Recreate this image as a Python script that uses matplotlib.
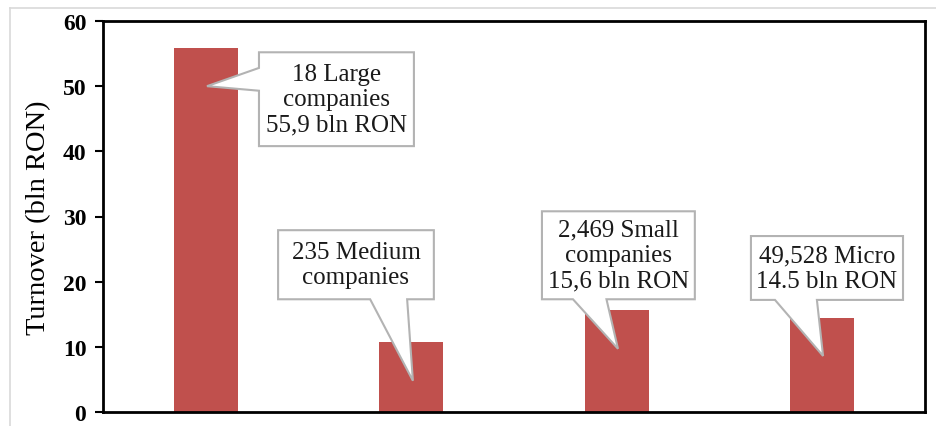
import matplotlib
matplotlib.use("Agg")
import matplotlib.pyplot as plt
from matplotlib.patches import Polygon
from matplotlib.lines import Line2D

# Data
categories = ["Large", "Medium", "Small", "Micro"]
turnover = [55.9, 10.7, 15.6, 14.5]
callout_texts = [
    "18 Large\ncompanies\n55,9 bln RON",
    "235 Medium\ncompanies",
    "2,469 Small\ncompanies\n15,6 bln RON",
    "49,528 Micro\n14.5 bln RON",
]
yticks = [0, 10, 20, 30, 40, 50, 60]

BAR_COLOR = "#C0504D"
SERIF = ["Liberation Serif", "DejaVu Serif"]

W, H = 937, 427
fig = plt.figure(figsize=(W / 100, H / 100), dpi=100)
fig.patch.set_facecolor("white")

# light outer frame
fig.add_artist(Line2D([10 / W, 1.0], [1 - 9 / H, 1 - 9 / H], transform=fig.transFigure,
                      color="#d9d9d9", lw=1.2))
fig.add_artist(Line2D([10 / W, 10 / W], [0.0, 1 - 9 / H], transform=fig.transFigure,
                      color="#d9d9d9", lw=1.2))

ax = fig.add_axes([103 / W, 1 - 413 / H, (925 - 103) / W, (413 - 22) / H])
x = list(range(len(categories)))
ax.bar(x, turnover, width=0.31, color=BAR_COLOR, zorder=2)

ax.set_xlim(-0.5, 3.5)
ax.set_ylim(0, 60)
ax.set_yticks(yticks)
ax.set_yticklabels([str(t) for t in yticks], fontfamily=SERIF, fontweight="bold", fontsize=17)
ax.set_xticks([])
ax.tick_params(axis="y", direction="out", length=6, width=1.5, pad=6)
for s in ax.spines.values():
    s.set_linewidth(2.0)
    s.set_color("black")
ax.set_ylabel("Turnover (bln RON)", fontfamily=SERIF, fontsize=20.5, labelpad=8)


def callout(ax, box, tail, tip, text):
    """Rectangle box (x0, x1, y0, y1) with a wedge pointing at tip.
    tail = (side, a, b): side of the box the wedge leaves from and its span."""
    x0, x1, y0, y1 = box
    side, a, b = tail
    if side == "left":
        pts = [(x0, y1), (x1, y1), (x1, y0), (x0, y0), (x0, b), tip, (x0, a)]
    else:  # bottom
        pts = [(x0, y1), (x1, y1), (x1, y0), (b, y0), tip, (a, y0), (x0, y0)]
    ax.add_patch(Polygon(pts, closed=True, facecolor="white", edgecolor="#b3b3b3",
                         lw=1.5, zorder=4, joinstyle="miter"))
    ax.text((x0 + x1) / 2, (y0 + y1) / 2, text, ha="center", va="center",
            fontfamily=SERIF, fontsize=18, linespacing=1.2, zorder=5, color="#1a1a1a")


callout(ax, (0.259, 1.013, 40.8, 55.2), ("left", 52.8, 49.3), (0.006, 50.0), callout_texts[0])
callout(ax, (0.352, 1.110, 17.3, 27.9), ("bottom", 0.80, 0.98), (1.008, 4.8), callout_texts[1])
callout(ax, (1.636, 2.380, 17.3, 30.8), ("bottom", 1.787, 1.95), (2.006, 9.7), callout_texts[2])
callout(ax, (2.653, 3.393, 17.2, 27.0), ("bottom", 2.77, 2.974), (3.004, 8.6), callout_texts[3])

fig.savefig("out.png", dpi=100, facecolor="white")
